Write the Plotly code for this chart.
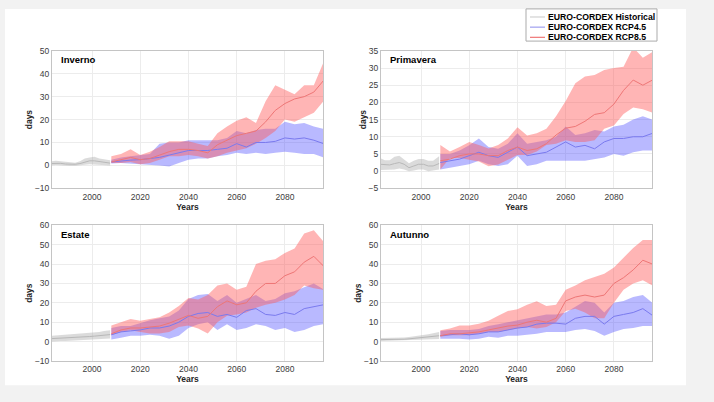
import plotly.graph_objects as go
from plotly.subplots import make_subplots

# ---------------- data ----------------
HIST_YEARS = [1983, 1985, 1987, 1989, 1991, 1993, 1995, 1997, 1999, 2001, 2003, 2005, 2007.5]
FUT_YEARS = [2008, 2012, 2016, 2020, 2024, 2028, 2032, 2036, 2040, 2044, 2048, 2052,
             2056, 2060, 2064, 2068, 2072, 2076, 2080, 2084, 2088, 2092, 2096]

SEASONS = ["Inverno", "Primavera", "Estate", "Autunno"]
Y_TICKS = {
    "Inverno": [-10, 0, 10, 20, 30, 40, 50],
    "Primavera": [-5, 0, 5, 10, 15, 20, 25, 30, 35],
    "Estate": [-10, 0, 10, 20, 30, 40, 50, 60],
    "Autunno": [-10, 0, 10, 20, 30, 40, 50, 60],
}
X_TICKS = [2000, 2020, 2040, 2060, 2080]

# Inverno
inv_hist_mean = [0.8, 1.0, 0.9, 0.6, 0.5, 0.5, 0.8, 1.3, 2.0, 2.0, 1.6, 1.3, 1.0]
inv_hist_lo = [0.0, 0.2, 0.1, 0.0, -0.2, -0.2, 0.0, 0.3, 0.5, 0.5, 0.3, 0.2, 0.0]
inv_hist_hi = [1.8, 2.0, 1.8, 1.5, 1.2, 1.2, 1.8, 3.0, 3.5, 3.8, 3.0, 2.5, 2.2]
inv_r45_mean = [1.5, 2, 2.3, 2.5, 3, 3.5, 4.5, 5.5, 6.5, 6.5, 6.5, 7, 7.5, 9.5, 8, 10, 10, 10.5, 12, 11.5, 12, 11, 9.5]
inv_r45_lo = [0.8, 1, 0.8, 0.5, 0.3, 0, -0.5, 1, 2.5, 3, 3, 4, 4.5, 5.5, 5, 5.5, 5, 5.5, 6, 5.5, 5, 5, 3.5]
inv_r45_hi = [2.5, 3.5, 4, 4.5, 5, 9.5, 10, 10, 11, 11, 11, 11, 12, 15, 14, 15.5, 16, 16, 19, 18, 18.5, 17, 16]
inv_r85_mean = [1.5, 2.5, 3.5, 2.5, 3, 4.5, 6, 7, 7, 6.5, 5.5, 9, 11, 13, 14, 15, 19, 24, 27, 29, 30, 32, 37]
inv_r85_lo = [1, 1, 1.5, 0.5, 1, 2.5, 4, 4, 4.5, 4, 3, 4, 5.5, 6.5, 7.5, 9.5, 12, 15, 20, 19, 21, 23, 28]
inv_r85_hi = [4, 5, 7, 4.5, 6, 8, 10.5, 10.5, 10.5, 9.5, 8.5, 14, 17, 19.5, 21, 18.5, 28, 35, 33, 31, 35, 35, 45]

# Primavera
pri_hist_mean = [2.0, 1.8, 1.8, 2.2, 2.5, 2.0, 1.0, 1.5, 2.0, 2.0, 1.5, 1.5, 2.2]
pri_hist_lo = [0.3, 0.3, 0.5, 0.5, 0.8, 0.5, 0.0, 0.2, 0.5, 0.5, 0.0, 0.2, 0.5]
pri_hist_hi = [3.8, 3.2, 3.2, 4.2, 4.5, 3.5, 2.3, 3.0, 3.5, 3.5, 3.0, 3.0, 4.3]
pri_r45_mean = [2.5, 3, 3.5, 4.5, 5.5, 4.5, 4, 5.5, 7, 4.5, 5, 5.5, 7, 8.5, 7, 7.5, 6.5, 8.5, 9.5, 9.5, 10, 10, 11]
pri_r45_lo = [0.5, 1, 1.5, 2, 3, 2, 1.5, 2, 4.5, 1.5, 2, 3, 3, 3, 3, 3, 3.5, 4, 5, 4.5, 5.5, 6, 6]
pri_r45_hi = [5, 5, 6, 7.5, 9.5, 7, 6.5, 8, 11, 8, 8.5, 9, 10, 13, 10.5, 11, 12, 11.5, 13, 13.5, 15, 16, 15]
pri_r85_mean = [3, 3.5, 4.5, 5, 5, 4.5, 4.5, 6, 7, 6, 6.5, 8, 10.5, 12.5, 13, 14.5, 16.5, 17, 19.5, 23.5, 26.5, 25, 26.5]
pri_r85_lo = [0.5, 3.8, 3.8, 3.3, 2.8, 1.4, 1.9, 3.3, 4.7, 4.7, 5.7, 7.6, 8, 9, 8.5, 8.5, 9, 12.3, 13.3, 16.6, 18.5, 18, 17]
pri_r85_hi = [7.6, 5.7, 7, 8.5, 7.6, 6.6, 7.6, 9.5, 12.8, 10.4, 11, 12.3, 16, 20.4, 25.6, 27.5, 28, 29.4, 30, 30.4, 36, 33, 34.7]

# Estate
est_hist_mean = [1.5, 1.6, 1.7, 1.8, 1.9, 2.0, 2.2, 2.4, 2.6, 2.8, 3.0, 3.3, 3.6]
est_hist_lo = [0.0, 0.2, 0.3, 0.3, 0.4, 0.5, 0.6, 0.8, 0.9, 1.0, 1.2, 1.4, 1.6]
est_hist_hi = [3.0, 3.2, 3.3, 3.4, 3.5, 3.7, 4.0, 4.2, 4.5, 4.8, 5.0, 5.4, 5.8]
est_r45_mean = [3.5, 5, 5.5, 6, 7, 7, 8, 10, 13, 14.5, 15, 13, 14, 12.5, 16, 17, 14, 13.5, 15, 14, 17, 18, 19]
est_r45_lo = [1, 2, 3, 3, 3.5, 3, 1.5, 3, 7, 9, 10, 6, 9, 6, 7, 9, 8, 6, 7, 5, 6, 8, 9]
est_r45_hi = [7, 8, 8, 9.5, 11, 12, 13, 16, 22, 24, 24.5, 21, 24, 20, 22, 24, 21, 22, 25, 26, 28, 30, 27]
est_r85_mean = [4, 6, 7, 7, 7.5, 8, 9.5, 11.5, 13.5, 12, 13, 18, 21, 19, 20, 26, 30, 30, 34, 36, 41, 44, 39]
est_r85_lo = [3.3, 5, 5.8, 5, 4.2, 4.2, 5, 7.5, 8.3, 6.7, 4.2, 10, 13.3, 14, 15, 17.5, 19, 20, 21.7, 24, 29, 27.5, 26.7]
est_r85_hi = [8.3, 10, 11.7, 10.8, 11.7, 12.5, 15, 18.3, 22.5, 21.7, 24, 29, 30, 26.7, 28.3, 40, 41.7, 42.5, 45.8, 48, 55.8, 57.5, 51.7]

# Autunno
aut_hist_mean = [1.0, 1.0, 1.0, 1.0, 1.1, 1.2, 1.4, 1.6, 1.8, 2.0, 2.3, 2.7, 3.0]
aut_hist_lo = [0.3, 0.3, 0.3, 0.3, 0.4, 0.4, 0.5, 0.6, 0.7, 0.8, 1.0, 1.2, 1.3]
aut_hist_hi = [1.8, 1.8, 1.8, 1.8, 1.9, 2.1, 2.4, 2.7, 3.0, 3.3, 3.8, 4.3, 5.0]
aut_r45_mean = [3, 3.5, 4, 3.5, 4, 5, 5, 6, 7, 7.5, 9, 9.5, 9.5, 9, 12, 13, 13, 9, 13, 14, 15, 17, 13.5]
aut_r45_lo = [1.5, 1.5, 1.5, 1, 1.5, 2.5, 2, 3, 3, 3.5, 4, 5, 5, 5, 6, 6.5, 5.5, 3, 5, 6.5, 7, 8, 8]
aut_r45_hi = [5.5, 6, 6, 6, 6.5, 8, 9, 10, 11, 12, 13, 14, 14, 15, 18, 21, 20, 15, 20, 21, 23, 24, 20]
aut_r85_mean = [3, 4, 4, 4.5, 5, 6, 7, 8, 8.5, 10, 11, 10, 12, 21, 23, 24, 23, 24, 30, 33, 37, 42, 40]
aut_r85_lo = [2.5, 3.3, 3.3, 3.3, 4.2, 5, 5, 5.8, 6.7, 7.5, 6.7, 7.5, 10, 15.8, 17, 15, 12, 12, 20, 26.7, 30, 31.7, 29]
aut_r85_hi = [5.8, 6.7, 8.3, 8.3, 9.2, 10.8, 13.3, 15.8, 16.7, 19, 20.8, 18.3, 19, 26.7, 29, 31.7, 33.3, 35, 38.3, 43.3, 48.3, 52.5, 52.5]

DATA = {
    "Inverno": (inv_hist_mean, inv_hist_lo, inv_hist_hi, inv_r45_mean, inv_r45_lo, inv_r45_hi, inv_r85_mean, inv_r85_lo, inv_r85_hi),
    "Primavera": (pri_hist_mean, pri_hist_lo, pri_hist_hi, pri_r45_mean, pri_r45_lo, pri_r45_hi, pri_r85_mean, pri_r85_lo, pri_r85_hi),
    "Estate": (est_hist_mean, est_hist_lo, est_hist_hi, est_r45_mean, est_r45_lo, est_r45_hi, est_r85_mean, est_r85_lo, est_r85_hi),
    "Autunno": (aut_hist_mean, aut_hist_lo, aut_hist_hi, aut_r45_mean, aut_r45_lo, aut_r45_hi, aut_r85_mean, aut_r85_lo, aut_r85_hi),
}
LEGEND_NAMES = ["EURO-CORDEX Historical", "EURO-CORDEX RCP4.5", "EURO-CORDEX RCP8.5"]

# ---------------- style ----------------
FONT = "Liberation Sans, Arial, sans-serif"
HIST_FILL = "rgba(170,170,170,0.42)"
HIST_LINE = "#b8b8b8"
R45_FILL = "rgba(80,80,255,0.40)"
R45_LINE = "#7a7aee"
R85_FILL = "rgba(255,90,90,0.45)"
R85_LINE = "#ee7676"
LEGEND_LINES = ["#c8c8c8", "#8c8cec", "#ec5a5a"]

W, H = 714, 402
# pixel boxes of the four axes (left, right, top, bottom)
BOXES = [(52, 323, 47, 188), (381, 652, 47, 188), (52, 323, 226, 365), (381, 652, 226, 365)]
X_RANGE = [1983.4, 2095.8]

fig = make_subplots(rows=2, cols=2)

def band(years, lo, hi, color, row, col):
    fig.add_trace(go.Scatter(x=list(years) + list(years)[::-1], y=list(hi) + list(lo)[::-1],
                             fill="toself", fillcolor=color, line=dict(width=0),
                             mode="lines", hoverinfo="skip", showlegend=False),
                  row=row, col=col)

for i, s in enumerate(SEASONS):
    row, col = i // 2 + 1, i % 2 + 1
    hm, hl, hh, bm, bl, bh, rm, rl, rh = DATA[s]
    band(HIST_YEARS, hl, hh, HIST_FILL, row, col)
    band(FUT_YEARS, bl, bh, R45_FILL, row, col)
    band(FUT_YEARS, rl, rh, R85_FILL, row, col)
    fig.add_trace(go.Scatter(x=HIST_YEARS, y=hm, mode="lines", line=dict(color=HIST_LINE, width=1),
                             name=LEGEND_NAMES[0], showlegend=False), row=row, col=col)
    fig.add_trace(go.Scatter(x=FUT_YEARS, y=bm, mode="lines", line=dict(color=R45_LINE, width=1),
                             name=LEGEND_NAMES[1], showlegend=False), row=row, col=col)
    fig.add_trace(go.Scatter(x=FUT_YEARS, y=rm, mode="lines", line=dict(color=R85_LINE, width=1),
                             name=LEGEND_NAMES[2], showlegend=False), row=row, col=col)

    l, r, t, b = BOXES[i]
    ax = "" if i == 0 else str(i + 1)
    yt = Y_TICKS[s]
    fig.layout["xaxis" + ax].update(
        domain=[l / W, r / W], range=X_RANGE, tickvals=X_TICKS,
        showgrid=True, gridcolor="#ececec", gridwidth=1, zeroline=False,
        showline=True, linecolor="#c4c4c4", linewidth=1, mirror=True,
        ticks="", tickfont=dict(family=FONT, size=8.5, color="#3c3c3c"),
        title=dict(text="<b>Years</b>", font=dict(family=FONT, size=8.5, color="#262626"), standoff=2),
    )
    fig.layout["yaxis" + ax].update(
        domain=[1 - b / H, 1 - t / H], range=[yt[0], yt[-1]], tickvals=yt,
        showgrid=True, gridcolor="#ececec", gridwidth=1, zeroline=False,
        showline=True, linecolor="#c4c4c4", linewidth=1, mirror=True,
        ticks="", tickfont=dict(family=FONT, size=8.5, color="#3c3c3c"),
        title=dict(text="<b>days</b>", font=dict(family=FONT, size=8.5, color="#262626"), standoff=0),
    )
    fig.add_annotation(text="<b>" + s + "</b>", xref="x" + ax + " domain", yref="y" + ax + " domain",
                       x=7 / (r - l), y=1 - 9 / (b - t), xanchor="left", yanchor="middle",
                       showarrow=False, font=dict(family=FONT, size=9.5, color="black"))

# white page area on light grey background
fig.add_shape(type="rect", xref="paper", yref="paper", x0=5 / W, x1=686 / W, y0=1 - 390 / H, y1=1 - 4 / H,
              fillcolor="white", line=dict(width=0), layer="below")

# legend box drawn in paper coordinates
LEG_L, LEG_R, LEG_T, LEG_B = 526, 657, 4, 37
fig.add_shape(type="rect", xref="paper", yref="paper", x0=LEG_L / W, x1=LEG_R / W,
              y0=1 - LEG_B / H, y1=1 - LEG_T / H, fillcolor="white",
              line=dict(color="#ababab", width=1), layer="above")
ROW_Y = [12.3, 22.7, 33.1]
for name, colr, ry in zip(LEGEND_NAMES, LEGEND_LINES, ROW_Y):
    fig.add_shape(type="line", xref="paper", yref="paper", x0=530 / W, x1=545 / W,
                  y0=1 - ry / H, y1=1 - ry / H, line=dict(color=colr, width=1), layer="above")
    fig.add_annotation(text="<b>" + name + "</b>", xref="paper", yref="paper", x=546 / W, y=1 - ry / H,
                       xanchor="left", yanchor="middle", showarrow=False,
                       font=dict(family=FONT, size=8.7, color="black"))

fig.update_layout(
    width=W, height=H, margin=dict(l=0, r=0, t=0, b=0),
    paper_bgcolor="#f2f2f2", plot_bgcolor="white",
    font=dict(family=FONT), showlegend=False,
)

fig.write_html("out.html", config={"displayModeBar": False},
               post_script="document.body.style.margin='0px';document.body.style.overflow='hidden';")
